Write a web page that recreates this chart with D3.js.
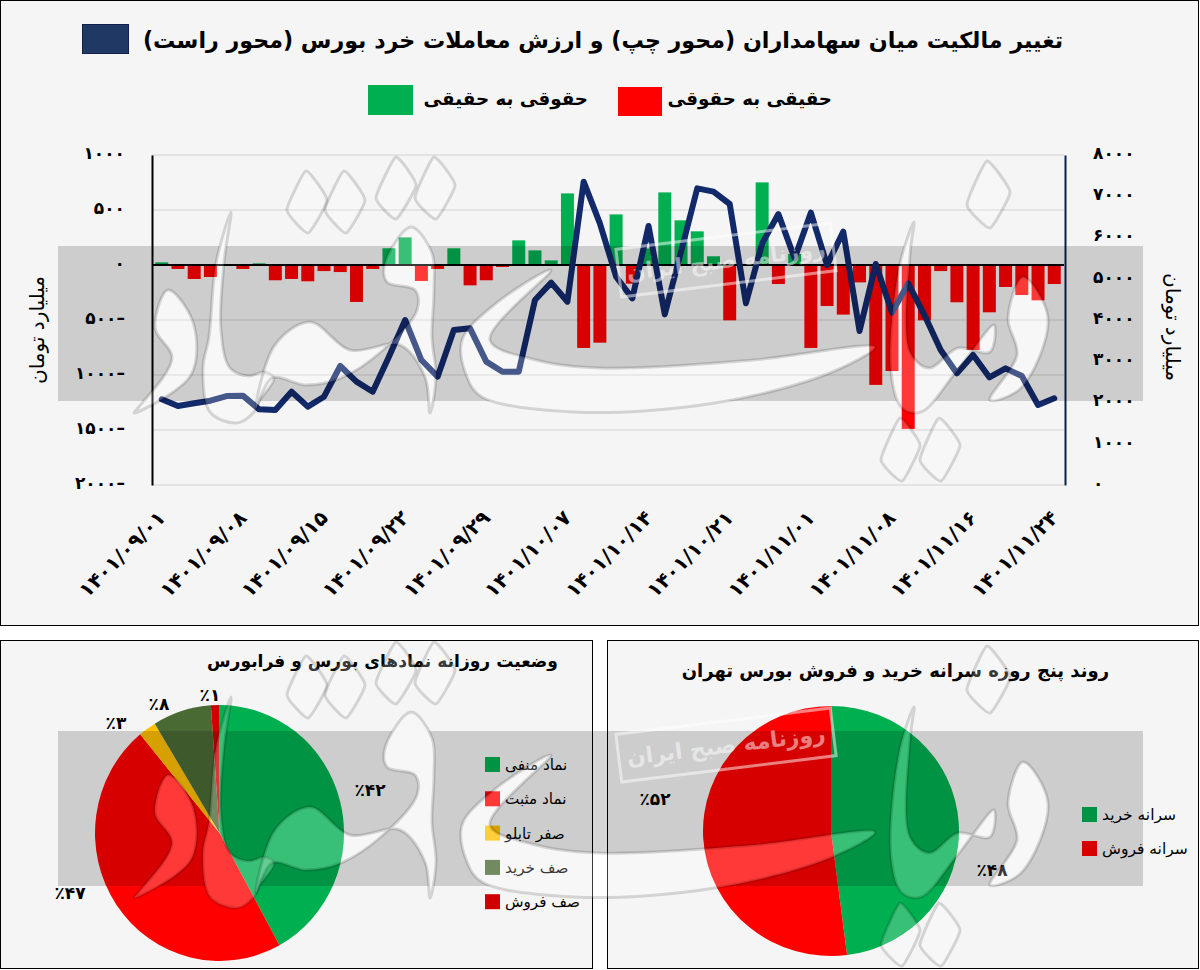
<!DOCTYPE html>
<html>
<head>
<meta charset="utf-8">
<script src="https://cdnjs.cloudflare.com/ajax/libs/d3/7.8.5/d3.min.js"></script>
<style>
  html, body { margin: 0; padding: 0; background: #fff; }
  svg { display: block; }
  text { font-family: "DejaVu Sans", sans-serif; fill: #000; }
</style>
</head>
<body>
<svg id="chart" width="1200" height="970"></svg>
<script>
// net flow between real and legal holders, left axis (billion toman)
const flowValues = [24, -36, -127, -109, 0, -36, 15, -139, -127, -148, -55, -64, -336, -36, 152, 251,
  -145, -36, 152, -185, -139, -18, 224, 133, 42, 651, -754, -706, 460, -170, 150, 660, 406, 306, 79,
  -503, 0, 751, -173, 100, -754, -373, -451, -158, -1090, -964, -1490, -503, -55, -339, -773, -430,
  -200, -273, -321, -173];
// retail trade value, right axis
const tradeValues = [2077, 1915, 1980, 2044, 2157, 2166, 1834, 1818, 2262, 1899, 2141, 2885, 2505, 2262,
  3111, 4000, 3030, 2626, 3757, 3798, 2990, 2747, 2747, 4484, 4905, 4444, 7353, 6343, 5050, 4525, 6279,
  4137, 5657, 7191, 7111, 6812, 4404, 5858, 6569, 5495, 6602, 5333, 6141, 3733, 5357, 4178, 4888, 4121,
  3272, 2707, 3151, 2610, 2828, 2642, 1939, 2101];
const dateLabels = ["۱۴۰۱/۰۹/۰۱", "۱۴۰۱/۰۹/۰۸", "۱۴۰۱/۰۹/۱۵", "۱۴۰۱/۰۹/۲۲", "۱۴۰۱/۰۹/۲۹", "۱۴۰۱/۱۰/۰۷",
  "۱۴۰۱/۱۰/۱۴", "۱۴۰۱/۱۰/۲۱", "۱۴۰۱/۱۱/۰۱", "۱۴۰۱/۱۱/۰۸", "۱۴۰۱/۱۱/۱۶", "۱۴۰۱/۱۱/۲۴"];
const leftTicks = [1000, 500, 0, -500, -1000, -1500, -2000];
const rightTicks = [8000, 7000, 6000, 5000, 4000, 3000, 2000, 1000, 0];

const symbolNames = ["نماد منفی", "نماد مثبت", "صفر تابلو", "صف خرید", "صف فروش"];
const symbolShares = [42, 47, 2.3, 7.6, 1.1];
const symbolLabels = ["٪۴۲", "٪۴۷", "٪۳", "٪۸", "٪۱"];
const perCapitaNames = ["سرانه خرید", "سرانه فروش"];
const perCapitaShares = [48, 52];
const perCapitaLabels = ["٪۴۸", "٪۵۲"];

const GREEN = "#00b050", RED = "#ff0000", NAVY = "#12296a";
const symbolColors = [GREEN, RED, "#ffc000", "#4a6a34", "#d00000"];
const perCapitaColors = [GREEN, RED];

const svg = d3.select("#chart");
const fa = s => String(s).replace(/\d/g, d => "۰۱۲۳۴۵۶۷۸۹"[d]);

// panels
[[0.5, 0.5, 1198, 625], [0.5, 640.5, 592, 328], [607.5, 640.5, 591, 328]].forEach(p => {
  svg.append("rect").attr("x", p[0]).attr("y", p[1]).attr("width", p[2]).attr("height", p[3])
    .attr("fill", "#f5f5f5").attr("stroke", "#000").attr("stroke-width", 1);
});

// ---- top chart
const plot = { left: 152, right: 1064, top: 155, bottom: 485 };
const x = d3.scaleBand().domain(d3.range(flowValues.length)).range([plot.left, plot.right]).padding(0.2);
const yLeft = d3.scaleLinear().domain([-2000, 1000]).range([plot.bottom, plot.top]);
const yRight = d3.scaleLinear().domain([0, 8000]).range([plot.bottom, plot.top]);

svg.append("g").selectAll("line").data(leftTicks).join("line")
  .attr("x1", plot.left).attr("x2", plot.right)
  .attr("y1", d => yLeft(d)).attr("y2", d => yLeft(d))
  .attr("stroke", "#dcdcdc").attr("stroke-width", 1.5);

svg.append("g").selectAll("rect").data(flowValues).join("rect")
  .attr("x", (d, i) => x(i))
  .attr("width", x.bandwidth())
  .attr("y", d => yLeft(Math.max(d, 0)))
  .attr("height", d => Math.abs(yLeft(d) - yLeft(0)))
  .attr("fill", d => d > 0 ? GREEN : RED);

svg.append("line").attr("x1", plot.left).attr("x2", plot.right)
  .attr("y1", yLeft(0)).attr("y2", yLeft(0)).attr("stroke", "#000").attr("stroke-width", 2);

const axisLeft = d3.axisLeft(yLeft).tickValues(leftTicks).tickSize(0).tickPadding(27)
  .tickFormat(d => d < 0 ? fa(-d) + "–" : fa(d));
const gl = svg.append("g").attr("transform", `translate(${plot.left},0)`).call(axisLeft);
gl.select(".domain").attr("stroke", "#000").attr("stroke-width", 2);
gl.selectAll("text").attr("font-size", 17).attr("font-weight", "bold").attr("dy", "0.2em");

const axisRight = d3.axisRight(yRight).tickValues(rightTicks).tickSize(0).tickPadding(28).tickFormat(fa);
const gr = svg.append("g").attr("transform", `translate(${plot.right + 1},0)`).call(axisRight);
gr.select(".domain").attr("stroke", "#0b1f50").attr("stroke-width", 2);
gr.selectAll("text").attr("font-size", 17).attr("font-weight", "bold").attr("dy", "0.2em");

const axisBottom = d3.axisBottom(x).tickValues(d3.range(0, flowValues.length, 5)).tickSize(0)
  .tickFormat(d => dateLabels[d / 5]);
const gb = svg.append("g").attr("transform", `translate(0,${plot.bottom})`).call(axisBottom);
gb.select(".domain").remove();
gb.selectAll("text").attr("font-size", 20).attr("font-weight", "bold")
  .attr("text-anchor", "end").attr("dy", 0).attr("y", 0)
  .attr("transform", "translate(5,34) rotate(-45)");

const tradeLine = d3.line().x((d, i) => x(i) + x.bandwidth() / 2).y(d => yRight(d));
svg.append("path").datum(tradeValues).attr("d", tradeLine)
  .attr("fill", "none").attr("stroke", NAVY).attr("stroke-width", 6)
  .attr("stroke-linejoin", "round").attr("stroke-linecap", "round");

svg.append("text").attr("x", 603).attr("y", 48).attr("text-anchor", "middle")
  .attr("font-size", 22.2).attr("font-weight", "bold")
  .text("تغییر مالکیت میان سهامداران (محور چپ) و ارزش معاملات خرد بورس (محور راست)");
svg.append("rect").attr("x", 82.5).attr("y", 24.5).attr("width", 46).attr("height", 29)
  .attr("fill", "#1f3864").attr("stroke", "#10204a");
svg.append("rect").attr("x", 368).attr("y", 85).attr("width", 45).attr("height", 30).attr("fill", GREEN);
svg.append("rect").attr("x", 618).attr("y", 87).attr("width", 44).attr("height", 29).attr("fill", RED);
svg.append("text").attr("x", 588).attr("y", 105).attr("text-anchor", "end")
  .attr("font-size", 18.3).attr("font-weight", "bold").text("حقوقی به حقیقی");
svg.append("text").attr("x", 832).attr("y", 105).attr("text-anchor", "end")
  .attr("font-size", 18.3).attr("font-weight", "bold").text("حقیقی به حقوقی");

svg.append("text").attr("transform", "translate(44,330) rotate(-90)").attr("text-anchor", "middle")
  .attr("font-size", 20).text("میلیارد تومان");
svg.append("text").attr("transform", "translate(1166,327) rotate(90)").attr("text-anchor", "middle")
  .attr("font-size", 20).text("میلیارد تومان");

// ---- pies
function drawPie(cfg) {
  const g = svg.append("g").attr("transform", `translate(${cfg.cx},${cfg.cy}) scale(${cfg.sx},${cfg.sy})`);
  const arc = d3.arc().innerRadius(0).outerRadius(100);
  const pie = d3.pie().sort(null).value(d => d);
  g.selectAll("path").data(pie(cfg.values)).join("path")
    .attr("d", arc).attr("fill", (d, i) => cfg.colors[i]);
  svg.append("g").selectAll("text").data(cfg.labels).join("text")
    .attr("x", (d, i) => cfg.labelPos[i][0]).attr("y", (d, i) => cfg.labelPos[i][1])
    .attr("text-anchor", "middle").attr("font-size", 17).attr("font-weight", "bold").text(d => d);
  const lg = svg.append("g").selectAll("g").data(cfg.names).join("g");
  lg.append("rect").attr("x", cfg.legendX).attr("y", (d, i) => cfg.legendY + i * cfg.legendStep)
    .attr("width", 15).attr("height", 15).attr("fill", (d, i) => cfg.colors[i]);
  lg.append("text").attr("x", cfg.legendX + 20).attr("y", (d, i) => cfg.legendY + 13 + i * cfg.legendStep)
    .attr("font-size", cfg.legendSize).text(d => d);
  svg.append("text").attr("x", cfg.titleX).attr("y", cfg.titleY).attr("text-anchor", "end")
    .attr("font-size", cfg.titleSize).attr("font-weight", "bold").text(cfg.title);
}

drawPie({
  cx: 219.5, cy: 833, sx: 1.245, sy: 1.28, values: symbolShares, colors: symbolColors, labels: symbolLabels,
  labelPos: [[370, 796], [70, 899], [116, 729], [159, 710], [210, 701]],
  names: symbolNames, legendX: 485, legendY: 757, legendStep: 34.3, legendSize: 15.2,
  title: "وضعیت روزانه نمادهای بورس و فرابورس", titleX: 558, titleY: 667, titleSize: 17.1
});
drawPie({
  cx: 831, cy: 831, sx: 1.28, sy: 1.25, values: perCapitaShares, colors: perCapitaColors, labels: perCapitaLabels,
  labelPos: [[992, 876], [655, 805]],
  names: perCapitaNames, legendX: 1082, legendY: 807, legendStep: 34, legendSize: 15.5,
  title: "روند پنج روزه سرانه خرید و فروش بورس تهران", titleX: 1109, titleY: 677, titleSize: 18
});

// ---- newspaper watermark, repeated over both rows
const wmShapes = [
  [[168,290],[155,328],[172,358],[138,408],[134,413],[191,375],[193,322]],
  [[231,212],[224,263],[221,330],[230,368],[249,376],[264,372],[274,378],[260,400],[254,412],[237,423],[210,412],[203,368],[209,337],[216,263]],
  [[256,408],[272,378],[306,385],[341,378],[383,350],[417,310],[415,290],[387,282],[385,263],[411,227],[432,253],[434,290],[432,337],[436,377],[430,413],[425,377],[400,345],[350,350],[310,322],[275,345]],
  [[467,377],[482,397],[574,412],[715,403],[830,373],[875,347],[753,360],[600,368],[536,360],[490,340],[551,270],[494,305],[462,340]],
  [[914,222],[899,268],[891,372],[902,408],[921,412],[956,372],[994,325],[990,352],[958,348],[929,368],[910,352],[910,255]],
  [[1023,277],[1048,318],[1021,388],[990,400],[1017,355],[1008,318]]
];
const wmDrops = [
  [[306,171],[287,210],[308,233],[327,200]], [[344,171],[325,210],[346,233],[365,200]],
  [[396,157],[376,198],[396,219],[416,185]], [[434,157],[415,198],[436,219],[455,185]],
  [[987,161],[967,205],[990,228],[1010,192]], [[900,418],[881,460],[902,481],[920,445]],
  [[939,418],[920,460],[941,481],[960,445]]
];
const blob = d3.line().curve(d3.curveCatmullRomClosed.alpha(0.5));
const drop = d3.line().curve(d3.curveCardinalClosed.tension(0.55));
const ROW = 485;

const mask = svg.append("defs").append("mask").attr("id", "bandMask").attr("maskUnits", "userSpaceOnUse")
  .attr("x", 0).attr("y", 0).attr("width", 1200).attr("height", 970);
mask.append("rect").attr("width", 1200).attr("height", 970).attr("fill", "#fff");

[0, ROW].forEach(dy => {
  wmShapes.forEach(s => mask.append("path").attr("transform", `translate(0,${dy})`).attr("d", blob(s)).attr("fill", "#000"));
  wmDrops.forEach(s => mask.append("path").attr("transform", `translate(0,${dy})`).attr("d", drop(s)).attr("fill", "#000"));
  svg.append("rect").attr("x", 58).attr("y", 246 + dy).attr("width", 1085).attr("height", 155)
    .attr("fill", "#000").attr("fill-opacity", 0.16).attr("mask", "url(#bandMask)");
});

[0, ROW].forEach(dy => {
  const wm = svg.append("g").attr("transform", `translate(0,${dy})`);
  wm.selectAll(".s").data(wmShapes).join("path").attr("class", "s").attr("d", blob)
    .attr("fill", "#fff").attr("fill-opacity", 0.22).attr("stroke", "#000").attr("stroke-opacity", 0.14).attr("stroke-width", 3);
  wm.selectAll(".d").data(wmDrops).join("path").attr("class", "d").attr("d", drop)
    .attr("fill", "#fff").attr("fill-opacity", 0.22).attr("stroke", "#000").attr("stroke-opacity", 0.14).attr("stroke-width", 3);
  const stamp = wm.append("g").attr("transform", "translate(726,260) rotate(-7)");
  stamp.append("rect").attr("x", -108).attr("y", -24).attr("width", 216).attr("height", 48)
    .attr("fill", "none").attr("stroke", "#fff").attr("stroke-opacity", 0.5).attr("stroke-width", 3);
  stamp.append("text").attr("text-anchor", "middle").attr("y", 8).attr("font-size", 22).attr("font-weight", "bold")
    .style("fill", "#fff").style("fill-opacity", 0.5).text("روزنامه صبح ایران");
});
</script>
</body>
</html>
